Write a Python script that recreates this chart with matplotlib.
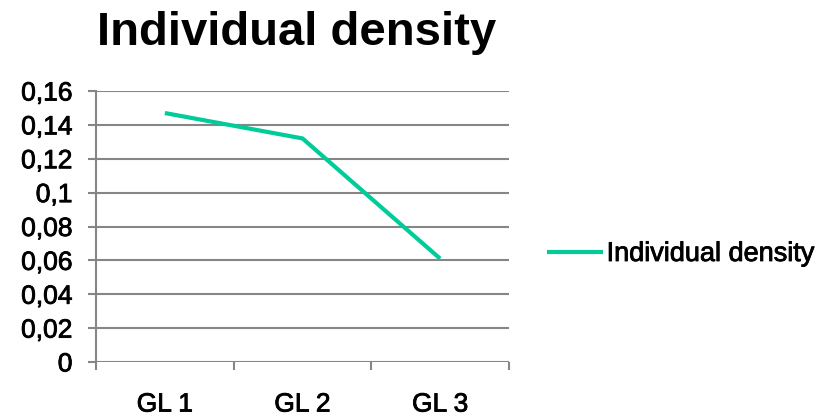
import matplotlib
matplotlib.use("Agg")
import matplotlib.pyplot as plt
import matplotlib.patheffects as pe
from matplotlib.ticker import FuncFormatter

categories = ["GL 1", "GL 2", "GL 3"]
values = [0.147, 0.132, 0.061]
series_name = "Individual density"
title = "Individual density"
yticks = [0, 0.02, 0.04, 0.06, 0.08, 0.1, 0.12, 0.14, 0.16]

plt.rcParams['font.family'] = ['Liberation Sans', 'DejaVu Sans']

W, H = 823, 416
fig = plt.figure(figsize=(W / 100, H / 100), dpi=100)
ax = fig.add_axes([96 / W, 1 - 362 / H, (509 - 96) / W, (362 - 91) / H])

grid_c = "#868686"
x = list(range(len(categories)))
ax.plot(x, values, color="#00CC99", lw=3.0, solid_capstyle="butt", label=series_name)

ax.set_xlim(-0.5, len(categories) - 0.5)
ax.set_ylim(0, 0.16)
ax.set_yticks(yticks)
ax.yaxis.set_major_formatter(FuncFormatter(lambda v, p: ("%g" % v).replace(".", ",")))
ax.set_xticks(x)
ax.set_xticklabels(categories)
ax.set_xticks([-0.5, 0.5, 1.5, 2.5], minor=True)

for yv in yticks:
    ax.axhline(yv, color=grid_c, lw=1.5, zorder=0)

for s in ["top", "right", "bottom"]:
    ax.spines[s].set_visible(False)
ax.spines["left"].set_color(grid_c)
ax.spines["left"].set_linewidth(1.5)

ax.tick_params(axis="y", length=6, width=1.5, color=grid_c, labelsize=19, pad=11)
ax.tick_params(axis="x", which="major", length=0, labelsize=19, pad=22)
ax.tick_params(axis="x", which="minor", length=6, width=1.5, color=grid_c)

heavy = [pe.withStroke(linewidth=0.6, foreground="black")]
for lab in ax.get_xticklabels() + ax.get_yticklabels():
    lab.set_path_effects(heavy)

fig.text(297 / W, 1 - 33 / H, title, ha="center", va="center", fontsize=34, fontweight="bold")

leg = fig.legend(loc="center left", bbox_to_anchor=(547 / W, 1 - 254 / H), frameon=False,
                 fontsize=19.5, handlelength=2.05, handletextpad=0.15, borderaxespad=0,
                 borderpad=0)
for t in leg.get_texts():
    t.set_path_effects(heavy)

fig.savefig("out.png", dpi=100)
